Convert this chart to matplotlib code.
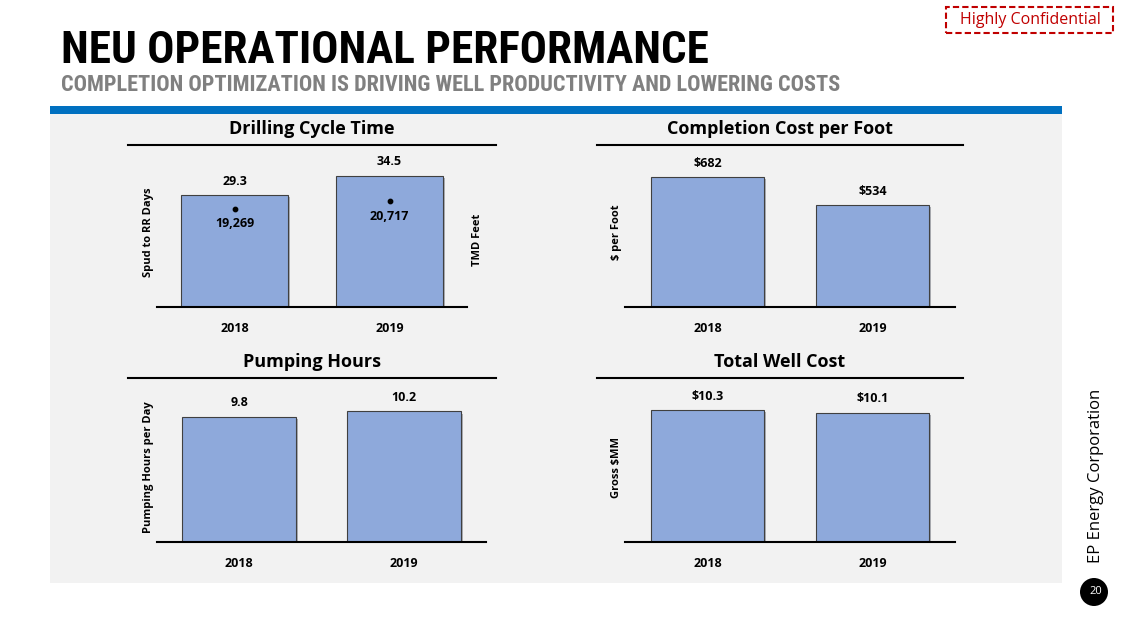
import matplotlib
matplotlib.use("Agg")
import matplotlib.pyplot as plt
from matplotlib.patches import Rectangle, Ellipse
from matplotlib.lines import Line2D
import matplotlib.patheffects as pe

W, H = 1128, 635

# ---------------- data ----------------
years = ["2018", "2019"]
cycle_days = [29.3, 34.5]
cycle_labels = ["29.3", "34.5"]
tmd_feet = [19269, 20717]
tmd_labels = ["19,269", "20,717"]
comp_cost = [682, 534]
comp_labels = ["$682", "$534"]
pump_hours = [9.8, 10.2]
pump_labels = ["9.8", "10.2"]
well_cost = [10.3, 10.1]
well_labels = ["$10.3", "$10.1"]

BAR = "#8EA9DB"
FONT = ["Open Sans", "DejaVu Sans"]
COND = ["Roboto Condensed", "Open Sans Condensed", "Liberation Sans Narrow", "DejaVu Sans"]
plt.rcParams["font.family"] = FONT

fig = plt.figure(figsize=(W / 100, H / 100), dpi=100)
fig.patch.set_facecolor("white")


def frac_rect(x0, y0, x1, y1):
    return [x0 / W, 1 - y1 / H, (x1 - x0) / W, (y1 - y0) / H]


def px(x, y):
    return x / W, 1 - y / H


# background panel and blue band
fig.patches.append(Rectangle(px(50, 583), 1012 / W, 469 / H, transform=fig.transFigure,
                             facecolor="#F2F2F2", edgecolor="none", zorder=-10))
fig.patches.append(Rectangle(px(50, 114), 1012 / W, 8 / H, transform=fig.transFigure,
                             facecolor="#0070C0", edgecolor="none", zorder=-10))

# titles
fig.text(*px(61, 51), "NEU OPERATIONAL PERFORMANCE", fontsize=32.5, fontweight=600,
         family=COND, va="center", ha="left", color="black")
fig.text(*px(61, 85), "COMPLETION OPTIMIZATION IS DRIVING WELL PRODUCTIVITY AND LOWERING COSTS",
         fontsize=16, fontweight=600, family=COND,
         va="center", ha="left", color="#808080")

# Highly Confidential box
fig.patches.append(Rectangle(px(946, 33), 167 / W, 26 / H, transform=fig.transFigure,
                             facecolor="white", edgecolor="#C00000", linestyle=(0, (3, 1.5)),
                             linewidth=1.5, zorder=-5))
fig.text(*px(1030, 20), "Highly Confidential", fontsize=11.5, color="#C00000",
         ha="center", va="center")

# side label and page number
fig.text(*px(1096, 476), "EP Energy Corporation", rotation=90, fontsize=12,
         ha="center", va="center", color="black")
fig.patches.append(Ellipse(px(1094, 592), 28 / W, 28 / H, transform=fig.transFigure,
                           facecolor="black", edgecolor="none", zorder=-5))
fig.text(*px(1096, 592), "20", fontsize=8, color="white", ha="center", va="center")

shadow = [pe.SimplePatchShadow(offset=(1.5, -1.5), alpha=0.35), pe.Normal()]


def panel(title, tx, ty, lx0, lx1, rect, values, labels, ymax, ylabel, ylabel_x,
          width=0.69):
    fig.text(*px(tx, ty), title, fontsize=13, fontweight="bold", ha="center", va="center")
    fig.lines.append(Line2D([lx0 / W, lx1 / W], [1 - (ty + 16) / H] * 2,
                            transform=fig.transFigure, color="black", linewidth=1.5))
    ax = fig.add_axes(frac_rect(*rect))
    ax.set_facecolor("none")
    bars = ax.bar([0, 1], values, width=width, color=BAR, edgecolor="#404040",
                  linewidth=0.8, zorder=2)
    for b in bars:
        b.set_path_effects(shadow)
    for i, (v, lab) in enumerate(zip(values, labels)):
        ax.annotate(lab, (i, v), xytext=(0, 10), textcoords="offset points",
                    ha="center", va="center", fontsize=9, fontweight="bold")
    ax.set_xlim(-0.5, 1.5)
    ax.set_ylim(0, ymax)
    for s in ["top", "right", "left"]:
        ax.spines[s].set_visible(False)
    ax.spines["bottom"].set_linewidth(1.5)
    ax.set_yticks([])
    ax.set_xticks([0, 1])
    ax.set_xticklabels(years, fontsize=9, fontweight="bold")
    ax.tick_params(axis="x", length=0, pad=11)
    fig.text(*px(ylabel_x, (rect[1] + rect[3]) / 2 + 4), ylabel, rotation=90, fontsize=8,
             fontweight="bold", ha="center", va="center")
    return ax


ax1 = panel("Drilling Cycle Time", 312, 129, 128, 496, (157, 150, 467, 307),
            cycle_days, cycle_labels, 157 / 3.81, "Spud to RR Days", 149)
ax1b = ax1.twinx()
ax1b.set_ylim(0, 157 * 196)
ax1b.axis("off")
ax1b.scatter([0, 1], tmd_feet, s=10, color="black", zorder=3)
for i, (v, lab) in enumerate(zip(tmd_feet, tmd_labels)):
    ax1b.annotate(lab, (i, v), xytext=(0, -11), textcoords="offset points",
                  ha="center", va="center", fontsize=9, fontweight="bold")
fig.text(*px(478, 240), "TMD Feet", rotation=90, fontsize=8, fontweight="bold",
         ha="center", va="center")

panel("Completion Cost per Foot", 780, 129, 597, 963, (625, 150, 955, 307),
      comp_cost, comp_labels, 157 / 0.1906, "$ per Foot", 616, width=0.685)
panel("Pumping Hours", 312, 362, 128, 496, (157, 384, 486, 542),
      pump_hours, pump_labels, 158 / 12.8, "Pumping Hours per Day", 149, width=0.695)
panel("Total Well Cost", 780, 362, 597, 963, (625, 384, 955, 542),
      well_cost, well_labels, 158 / 12.8, "Gross $MM", 616, width=0.685)

fig.savefig("out.png", dpi=100, facecolor="white")
